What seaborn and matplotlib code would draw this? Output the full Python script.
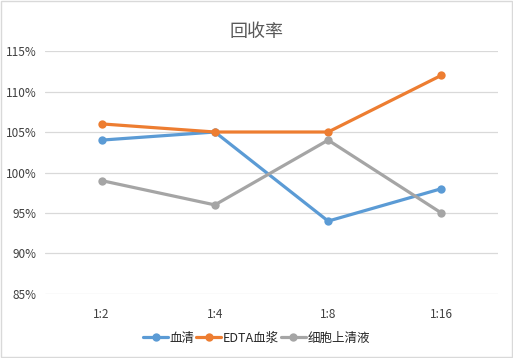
import pandas as pd
import matplotlib
matplotlib.use("Agg")
import matplotlib.pyplot as plt
import seaborn as sns
from matplotlib.ticker import FuncFormatter

# ---- data ----
DILUTIONS = ["1:2", "1:4", "1:8", "1:16"]
SERUM = [104, 105, 94, 98]
EDTA_PLASMA = [106, 105, 105, 112]
SUPERNATANT = [99, 96, 104, 95]
SERIES_NAMES = ["血清", "EDTA血浆", "细胞上清液"]
Y_TICKS = [85, 90, 95, 100, 105, 110, 115]

COLORS = ["#5B9BD5", "#ED7D31", "#A5A5A5"]
TEXT_GRAY = "#595959"

sns.set_theme(style="white")
plt.rcParams["font.family"] = ["Noto Sans CJK SC", "DejaVu Sans"]

rows = []
for name, vals in zip(SERIES_NAMES, [SERUM, EDTA_PLASMA, SUPERNATANT]):
    for d, v in zip(DILUTIONS, vals):
        rows.append({"稀释": d, "回收率": v, "样本": name})
df = pd.DataFrame(rows)

fig = plt.figure(figsize=(5.13, 3.58), dpi=100)
ax = fig.add_axes([0.0877, 0.1788, 0.8831, 0.6787])

sns.lineplot(data=df, x="稀释", y="回收率", hue="样本", hue_order=SERIES_NAMES,
             palette=COLORS, marker="o", markersize=6, markeredgewidth=0,
             linewidth=2.3, sort=False, ax=ax, legend=True)

ax.set_xlim(-0.5, len(DILUTIONS) - 0.5)
ax.set_ylim(85, 115)
ax.set_yticks(Y_TICKS)
ax.yaxis.set_major_formatter(FuncFormatter(lambda v, p: f"{v:.0f}%"))
ax.yaxis.grid(True, color="#D9D9D9", linewidth=0.9)
ax.xaxis.grid(False)
for s in ax.spines.values():
    s.set_visible(False)
ax.tick_params(axis="both", length=0, labelsize=8.5, colors="#404040")
ax.tick_params(axis="x", pad=10)
ax.tick_params(axis="y", pad=6)
ax.set_xlabel("")
ax.set_ylabel("")

fig.text(0.5, 0.912, "回收率", ha="center", va="center", fontsize=13, color=TEXT_GRAY)

handles, labels = ax.get_legend_handles_labels()
ax.legend(handles, labels, loc="center", bbox_to_anchor=(0.5, 0.055),
          bbox_transform=fig.transFigure, ncol=3, frameon=False, fontsize=9,
          handlelength=2, columnspacing=0.1, handletextpad=0.15)

# light frame around the chart
fig.patches.append(plt.Rectangle((0.002, 0.003), 0.996, 0.994, transform=fig.transFigure,
                                 fill=False, edgecolor="#D9D9D9", linewidth=1))

fig.savefig("out.png", dpi=100, facecolor="white")
